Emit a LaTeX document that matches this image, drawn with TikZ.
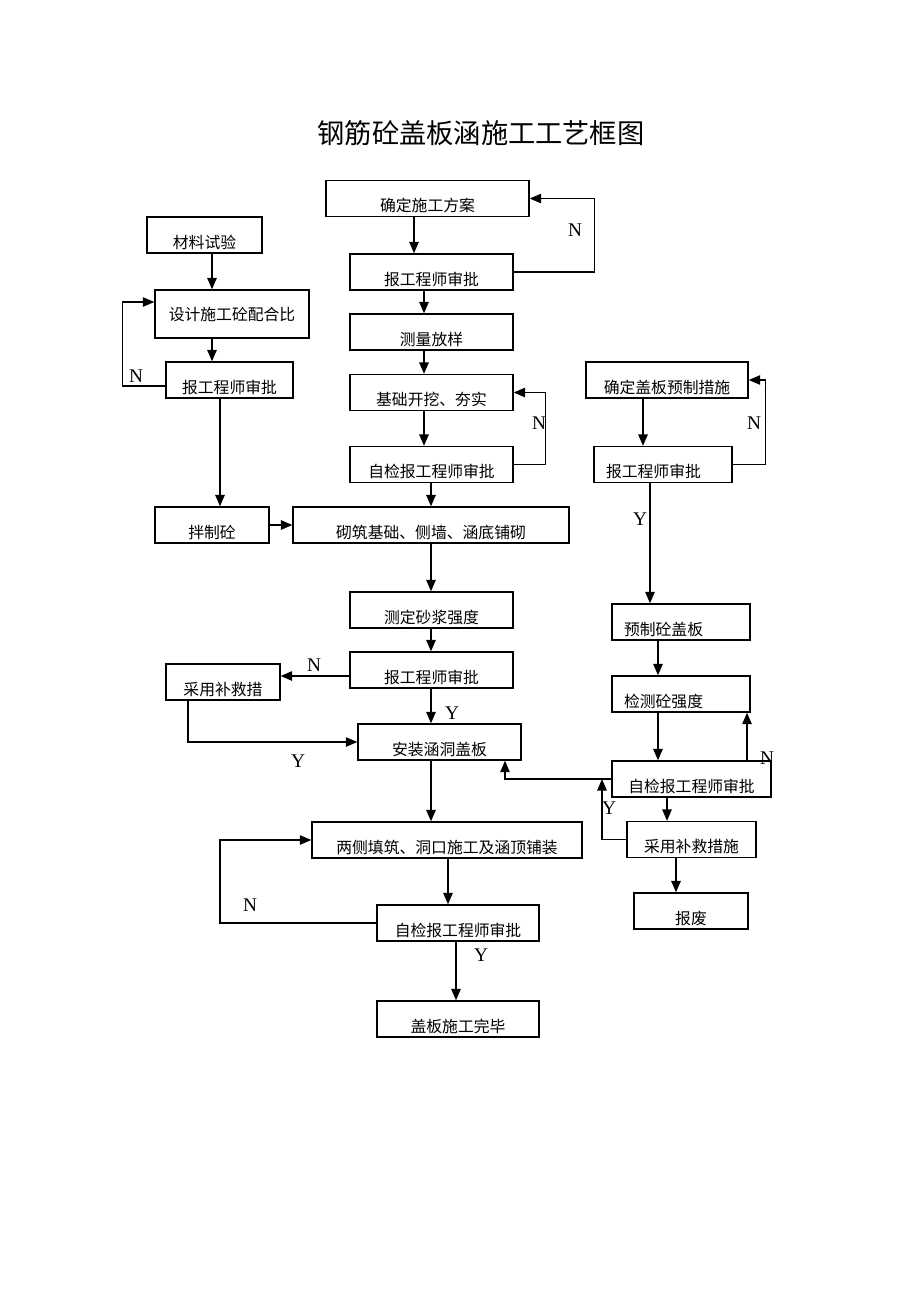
\documentclass[tikz,border=0pt]{standalone}
\usepackage{fontspec}
\setmainfont{Liberation Serif}
\newfontfamily\cjk{Noto Sans CJK SC}
\usetikzlibrary{arrows.meta, positioning}
\tikzset{
  base/.style = {
    draw, line width=0.8pt, minimum height=0.72cm, inner ysep=0pt,
    font=\cjk\fontsize{9}{11}\selectfont, text centered
  },
  box/.style = {
    base, text height=0.52cm, text depth=0pt
  },
  plainbox/.style = {
    base, minimum height=0.96cm
  },
  leftbox/.style = {
    box, align=left, inner xsep=0.24cm, text width=2.28cm
  },
  arrow/.style = {
    line width=0.8pt, -{Triangle[length=2.3mm, width=1.9mm]}
  },
  backarrow/.style = {
    arrow, line width=0.6pt
  },
  yn/.style = {
    font=\fontsize{11}{11}\selectfont, inner sep=0pt
  }
}

\begin{document}
\begin{tikzpicture}[x=0.02cm, y=-0.02cm]
  \useasboundingbox (0,0) rectangle (920,1302);

  \node[font=\cjk\fontsize{15.5}{18}\selectfont] (title) at (481,133) {钢筋砼盖板涵施工工艺框图};

  % Middle column (top to bottom)
  \node[box, minimum width=4.06cm] (plan) at (427.5,198.5) {确定施工方案};
  \node[box, minimum width=3.26cm] (approve1) at (431.5,272) {报工程师审批};
  \node[box, minimum width=3.26cm] (survey) at (431.5,332) {测量放样};
  \node[box, minimum width=3.26cm] (dig) at (431.5,392.5) {基础开挖、夯实};
  \node[box, minimum width=3.26cm] (check1) at (431.5,464.5) {自检报工程师审批};
  \node[box, minimum width=5.52cm] (masonry) at (431,525) {砌筑基础、侧墙、涵底铺砌};
  \node[box, minimum width=3.26cm] (mortar) at (431.5,610) {测定砂浆强度};
  \node[box, minimum width=3.26cm] (approve3) at (431.5,670) {报工程师审批};
  \node[box, minimum width=3.26cm] (install) at (439.5,742) {安装涵洞盖板};
  \node[box, minimum width=5.4cm] (backfill) at (447,840) {两侧填筑、洞口施工及涵顶铺装};
  \node[box, minimum width=3.24cm] (check3) at (458,923) {自检报工程师审批};
  \node[box, minimum width=3.24cm] (finish) at (458,1019) {盖板施工完毕};

  % Left column
  \node[box, minimum width=2.3cm] (test) at (204.5,235) {材料试验};
  \node[plainbox, minimum width=3.08cm] (mixratio) at (232,314) {设计施工砼配合比};
  \node[box, minimum width=2.54cm] (approve2) at (229.5,380) {报工程师审批};
  \node[box, minimum width=2.28cm] (batching) at (212,525) {拌制砼};
  \node[box, minimum width=2.28cm] (remedy1) at (223,682) {采用补救措};

  % Right column
  \node[box, minimum width=3.24cm] (slabplan) at (667,380) {确定盖板预制措施};
  \node[leftbox, minimum width=2.76cm] (approve4) at (663,464.5) {报工程师审批};
  \node[leftbox, minimum width=2.76cm] (precast) at (681,622) {预制砼盖板};
  \node[leftbox, minimum width=2.76cm] (strength) at (681,694) {检测砼强度};
  \node[box, minimum width=3.18cm] (check2) at (691.5,779) {自检报工程师审批};
  \node[box, minimum width=2.58cm] (remedy2) at (691.5,839.5) {采用补救措施};
  \node[box, minimum width=2.28cm] (scrap) at (691,911) {报废};

  % Y / N labels
  \node[yn] (n1) at (575,230) {N};
  \node[yn] (n2) at (539,423) {N};
  \node[yn] (n3) at (136,376) {N};
  \node[yn] (n4) at (314,665) {N};
  \node[yn] (y1) at (452,713) {Y};
  \node[yn] (y2) at (298,761) {Y};
  \node[yn] (n5) at (250,905) {N};
  \node[yn] (y3) at (481,955) {Y};
  \node[yn] (n6) at (754,423) {N};
  \node[yn] (y4) at (640,519) {Y};
  \node[yn] (n7) at (767,758) {N};
  \node[yn] (y5) at (609,808) {Y};

  % Arrows (middle column)
  \draw[arrow] (plan.south -| 414,0) -- (approve1.north -| 414,0);
  \draw[backarrow] (approve1.east) -- ++(81,0) |- (plan.east);
  \draw[arrow] (approve1.south -| 424,0) -- (survey.north -| 424,0);
  \draw[arrow] (survey.south -| 424,0) -- (dig.north -| 424,0);
  \draw[arrow] (dig.south -| 424,0) -- (check1.north -| 424,0);
  \draw[backarrow] (check1.east) -- ++(32,0) |- (dig.east);
  \draw[arrow] (check1.south -| 431,0) -- (masonry.north -| 431,0);
  \draw[arrow] (masonry.south -| 431,0) -- (mortar.north -| 431,0);
  \draw[arrow] (mortar.south -| 431,0) -- (approve3.north -| 431,0);
  \draw[arrow] (approve3.south -| 431,0) -- (install.north -| 431,0);
  \draw[arrow] (install.south -| 431,0) -- (backfill.north -| 431,0);
  \draw[arrow] (backfill.south -| 448,0) -- (check3.north -| 448,0);
  \draw[backarrow] (check3.west) -| (220,880) |- (backfill.west);
  \draw[arrow] (check3.south -| 456,0) -- (finish.north -| 456,0);

  % Arrows (left column)
  \draw[arrow] (test.south -| 212,0) -- (mixratio.north -| 212,0);
  \draw[arrow] (mixratio.south -| 212,0) -- (approve2.north -| 212,0);
  \draw[backarrow] ([yshift=-0.12cm]approve2.west) -- ++(-43,0) |- ([yshift=0.24cm]mixratio.west);
  \draw[arrow] (approve2.south -| 220,0) -- (batching.north -| 220,0);
  \draw[arrow] (batching.east) -- (masonry.west);
  \draw[arrow] (approve3.west |- 0,676) -- (remedy1.east |- 0,676);
  \draw[backarrow] (remedy1.south -| 188,0) |- (install.west);

  % Arrows (right column)
  \draw[arrow] (slabplan.south -| 643,0) -- (approve4.north -| 643,0);
  \draw[backarrow] (approve4.east) -- ++(33,0) |- (slabplan.east);
  \draw[arrow] (approve4.south -| 650,0) -- (precast.north -| 650,0);
  \draw[arrow] (precast.south -| 658,0) -- (strength.north -| 658,0);
  \draw[arrow] (strength.south -| 658,0) -- (check2.north -| 658,0);
  \draw[arrow] (check2.north -| 747,0) -- (strength.south -| 747,0);
  \draw[backarrow] (check2.west) -| (install.south -| 505,0);
  \draw[backarrow] (remedy2.west) -| (check2.west -| 602,0);
  \draw[arrow] (check2.south -| 667,0) -- (remedy2.north -| 667,0);
  \draw[arrow] (remedy2.south -| 676,0) -- (scrap.north -| 676,0);

\end{tikzpicture}
\end{document}
